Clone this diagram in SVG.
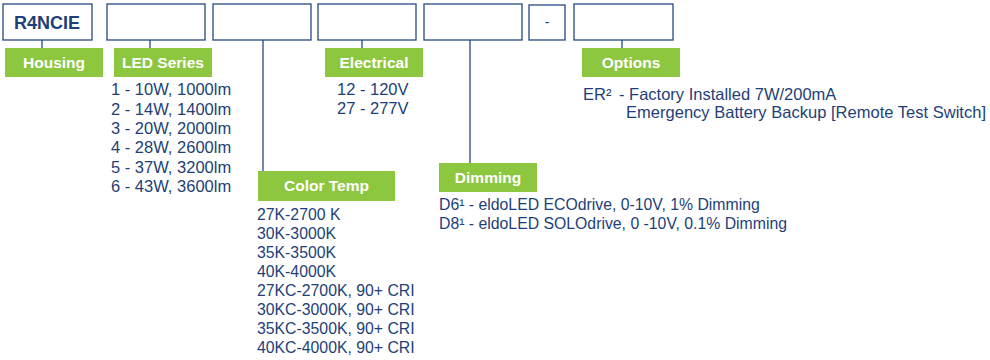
<svg xmlns="http://www.w3.org/2000/svg" width="990" height="360" viewBox="0 0 990 360">
<style>
.box{fill:#fff;stroke:#264a82;stroke-width:1.3}
.lbl{fill:#8dc63f}
.lt{font-family:"Liberation Sans",Arial,sans-serif;font-weight:bold;font-size:15.5px;fill:#fff;text-anchor:middle}
.t{font-family:"Liberation Sans",Arial,sans-serif;font-size:15.8px;fill:#1e3f77}
.c{stroke:#264a82;stroke-width:1.3;fill:none}
</style>
<rect width="990" height="360" fill="#fff"/>
<g id="connectors">
<line class="c" x1="42" y1="40" x2="42" y2="48"/>
<line class="c" x1="150" y1="40" x2="150" y2="48"/>
<line class="c" x1="263" y1="40" x2="263" y2="171"/>
<line class="c" x1="362" y1="40" x2="362" y2="48"/>
<line class="c" x1="470" y1="40" x2="470" y2="163"/>
<line class="c" x1="622" y1="40" x2="622" y2="48"/>
</g>
<g id="box-housing">
<rect class="box" x="3" y="4" width="89" height="36"/>
<text x="47" y="28.5" text-anchor="middle" style="font-family:'Liberation Sans',Arial,sans-serif;font-weight:bold;font-size:18px;fill:#1e3f77">R4NCIE</text>
</g>
<g id="box-led"><rect class="box" x="107" y="4" width="98" height="36"/></g>
<g id="box-color"><rect class="box" x="213" y="4" width="98" height="36"/></g>
<g id="box-elec"><rect class="box" x="318" y="4" width="98" height="36"/></g>
<g id="box-dim"><rect class="box" x="424" y="4" width="98" height="36"/></g>
<g id="box-dash"><rect class="box" x="529" y="5" width="36" height="35"/><text x="547" y="27" text-anchor="middle" class="t" style="font-size:14px">-</text></g>
<g id="box-options"><rect class="box" x="574" y="4" width="99" height="36"/></g>
<g id="label-housing">
<rect class="lbl" x="5" y="48" width="98" height="29"/>
<text class="lt" x="54" y="68">Housing</text>
</g>
<g id="label-led">
<rect class="lbl" x="114" y="48" width="98" height="29"/>
<text class="lt" x="163" y="68">LED Series</text>
<text class="t" x="111" y="95" style="font-size:16.5px">1 - 10W, 1000lm</text>
<text class="t" x="111" y="114.5" style="font-size:16.5px">2 - 14W, 1400lm</text>
<text class="t" x="111" y="134" style="font-size:16.5px">3 - 20W, 2000lm</text>
<text class="t" x="111" y="153" style="font-size:16.5px">4 - 28W, 2600lm</text>
<text class="t" x="111" y="172.5" style="font-size:16.5px">5 - 37W, 3200lm</text>
<text class="t" x="111" y="192" style="font-size:16.5px">6 - 43W, 3600lm</text>
</g>
<g id="label-color">
<rect class="lbl" x="258" y="171" width="137" height="30"/>
<text class="lt" x="326.5" y="191">Color Temp</text>
<text class="t" x="257" y="220">27K-2700 K</text>
<text class="t" x="257" y="239">30K-3000K</text>
<text class="t" x="257" y="258">35K-3500K</text>
<text class="t" x="257" y="277">40K-4000K</text>
<text class="t" x="257" y="296">27KC-2700K, 90+ CRI</text>
<text class="t" x="257" y="315">30KC-3000K, 90+ CRI</text>
<text class="t" x="257" y="334">35KC-3500K, 90+ CRI</text>
<text class="t" x="257" y="353">40KC-4000K, 90+ CRI</text>
</g>
<g id="label-elec">
<rect class="lbl" x="325" y="48" width="98" height="29"/>
<text class="lt" x="374" y="68">Electrical</text>
<text class="t" x="337" y="95" style="font-size:16.5px">12 - 120V</text>
<text class="t" x="337" y="114" style="font-size:16.5px">27 - 277V</text>
</g>
<g id="label-dim">
<rect class="lbl" x="439" y="163" width="98" height="29"/>
<text class="lt" x="488" y="183">Dimming</text>
<text class="t" x="439" y="210">D6¹ - eldoLED ECOdrive, 0-10V, 1% Dimming</text>
<text class="t" x="439" y="229">D8¹ - eldoLED SOLOdrive, 0 -10V, 0.1% Dimming</text>
</g>
<g id="label-options">
<rect class="lbl" x="582" y="48" width="98" height="29"/>
<text class="lt" x="631" y="68">Options</text>
<text class="t" x="583" y="100" style="font-size:16.5px">ER²</text>
<text class="t" x="619" y="100" style="font-size:16.5px">- Factory Installed 7W/200mA</text>
<text class="t" x="626" y="118" style="font-size:16.5px" textLength="360" lengthAdjust="spacing">Emergency Battery Backup [Remote Test Switch]</text>
</g>
</svg>
